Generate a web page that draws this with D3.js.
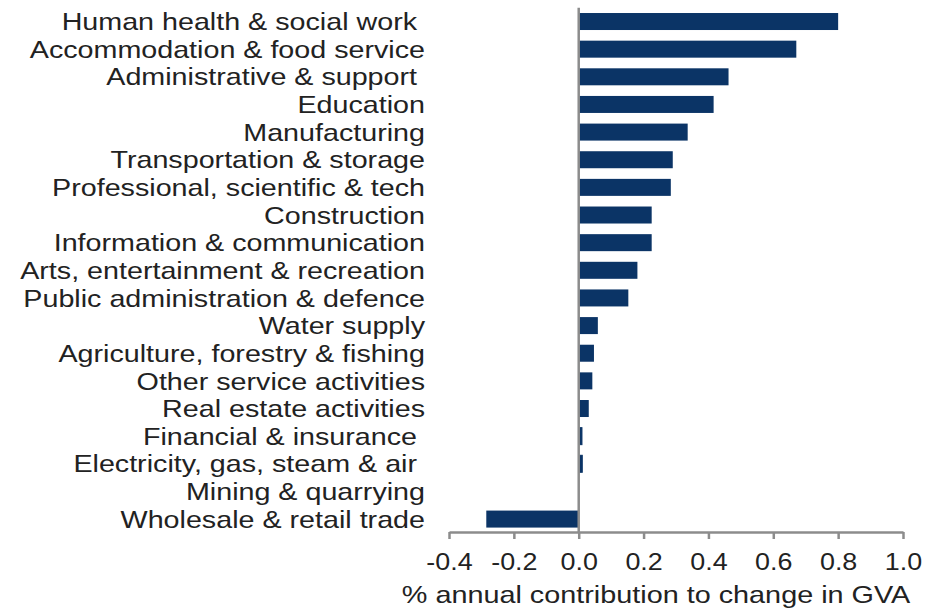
<!DOCTYPE html>
<html>
<head>
<meta charset="utf-8">
<script src="https://cdn.jsdelivr.net/npm/d3@7"></script>
<style>
  html, body { margin: 0; padding: 0; background: #fff; }
  svg { display: block; }
  text { font-family: "Liberation Sans", Arial, sans-serif; fill: #222; white-space: pre; }
</style>
</head>
<body>
<svg id="chart" width="943" height="612"></svg>
<script>
const categories = [
  "Human health & social work ",
  "Accommodation & food service",
  "Administrative & support ",
  "Education",
  "Manufacturing",
  "Transportation & storage",
  "Professional, scientific & tech",
  "Construction",
  "Information & communication",
  "Arts, entertainment & recreation",
  "Public administration & defence",
  "Water supply",
  "Agriculture, forestry & fishing",
  "Other service activities",
  "Real estate activities",
  "Financial & insurance ",
  "Electricity, gas, steam & air ",
  "Mining & quarrying",
  "Wholesale & retail trade"
];
const values = [0.80, 0.671, 0.462, 0.416, 0.336, 0.290, 0.284, 0.225, 0.225, 0.181, 0.153, 0.059, 0.047, 0.042, 0.031, 0.010, 0.011, 0.0, -0.285];
const tickValues = [-0.4, -0.2, 0.0, 0.2, 0.4, 0.6, 0.8, 1.0];
const tickLabels = ["-0.4", "-0.2", "0.0", "0.2", "0.4", "0.6", "0.8", "1.0"];
const axisTitle = "% annual contribution to change in GVA";

const svg = d3.select("#chart");
const x = d3.scaleLinear().domain([-0.4, 1.0]).range([449, 903]);
const y = d3.scaleBand().domain(categories).range([7.7, 532.9])
  .paddingInner(0.385).paddingOuter(0.1925);

// bars
svg.append("g").selectAll("rect")
  .data(categories.map((c, i) => ({c, v: values[i]})))
  .join("rect")
  .attr("x", d => x(Math.min(0, d.v)))
  .attr("y", d => y(d.c))
  .attr("width", d => Math.abs(x(d.v) - x(0)))
  .attr("height", y.bandwidth())
  .attr("fill", "#0b3466")
  .attr("stroke", d => Math.abs(d.v) > 0 && Math.abs(d.v) < 0.02 ? "#0b3466" : "none")
  .attr("stroke-width", 1);

// zero line
svg.append("line")
  .attr("x1", x(0)).attr("x2", x(0))
  .attr("y1", y.range()[0]).attr("y2", 532)
  .attr("stroke", "#8c8c8c").attr("stroke-width", 2.5);

// category labels
svg.append("g").selectAll("text")
  .data(categories)
  .join("text")
  .attr("transform", d => `translate(425,${y(d) + y.bandwidth() / 2}) scale(1.195,1)`)
  .attr("text-anchor", "end")
  .attr("dy", "0.36em")
  .attr("font-size", 24)
  .text(d => d);

// x axis
const axis = d3.axisBottom(x)
  .tickValues(tickValues)
  .tickFormat((d, i) => tickLabels[i])
  .tickSize(7)
  .tickSizeOuter(0);
const gx = svg.append("g").attr("transform", "translate(0,532)").call(axis);
gx.select(".domain").attr("stroke", "#8c8c8c").attr("stroke-width", 2.5);
gx.selectAll(".tick line").attr("stroke", "#8c8c8c").attr("stroke-width", 2.5);
gx.selectAll(".tick text")
  .attr("font-size", 24)
  .attr("font-family", "Liberation Sans, Arial, sans-serif")
  .attr("fill", "#222")
  .attr("y", 0)
  .attr("dy", 0)
  .attr("transform", "translate(0,37.5) scale(1.12,1)");

// axis title
svg.append("text")
  .attr("transform", "translate(656,603) scale(1.2,1)")
  .attr("text-anchor", "middle")
  .attr("font-size", 24)
  .text(axisTitle);
</script>
</body>
</html>
